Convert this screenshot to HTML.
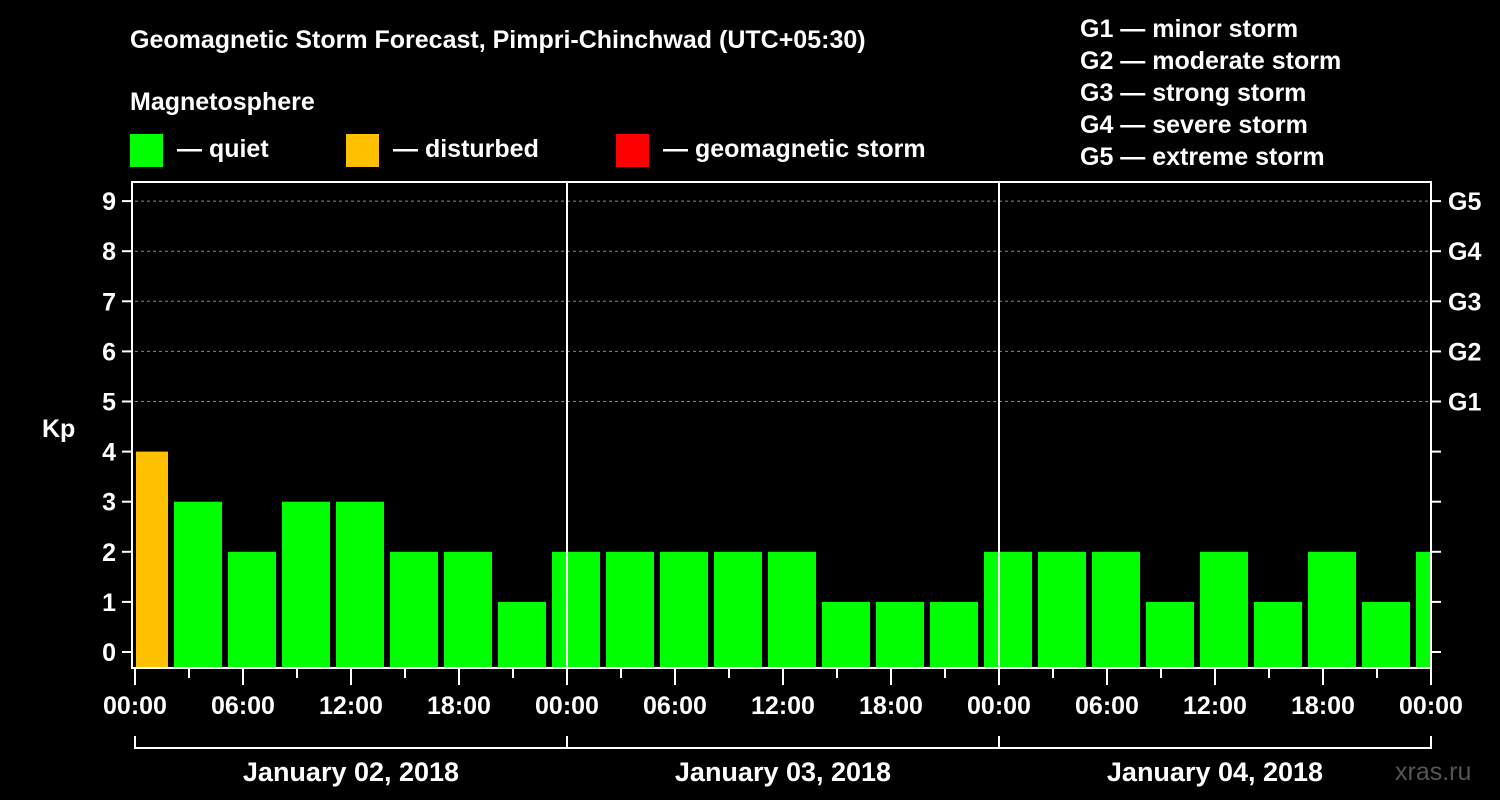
<!DOCTYPE html>
<html><head><meta charset="utf-8"><style>
html,body{margin:0;padding:0;background:#000;}
svg{display:block;font-family:"Liberation Sans",Arial,sans-serif;font-weight:bold;}
</style></head><body>
<svg id="c" width="1500" height="800" viewBox="0 0 1500 800">
<rect width="1500" height="800" fill="#000"/>
<text x="130" y="48" fill="#fff" font-size="25">Geomagnetic Storm Forecast, Pimpri-Chinchwad (UTC+05:30)</text>
<text x="130" y="110" fill="#fff" font-size="25">Magnetosphere</text>
<g><rect x="130" y="134" width="33" height="33" fill="#00ff00"/><text x="177" y="157" fill="#fff" font-size="25">— quiet</text></g>
<g><rect x="346" y="134" width="33" height="33" fill="#ffc000"/><text x="393" y="157" fill="#fff" font-size="25">— disturbed</text></g>
<g><rect x="616" y="134" width="33" height="33" fill="#ff0000"/><text x="663" y="157" fill="#fff" font-size="25">— geomagnetic storm</text></g>
<g fill="#fff" font-size="25">
<text x="1080" y="37">G1 — minor storm</text>
<text x="1080" y="69">G2 — moderate storm</text>
<text x="1080" y="101">G3 — strong storm</text>
<text x="1080" y="133">G4 — severe storm</text>
<text x="1080" y="165">G5 — extreme storm</text>
</g>
<text x="42" y="437" fill="#fff" font-size="25">Kp</text>
<text x="1395" y="780" fill="#555" font-size="25" font-weight="normal">xras.ru</text>
<g id="plot"></g>
</svg>
<script>
const kpValues=[4,3,2,3,3,2,2,1, 2,2,2,2,2,1,1,1, 2,2,2,1,2,1,2,1,2];
const kpStatus=['disturbed','quiet','quiet','quiet','quiet','quiet','quiet','quiet','quiet','quiet','quiet','quiet','quiet','quiet','quiet','quiet','quiet','quiet','quiet','quiet','quiet','quiet','quiet','quiet','quiet'];
const dayLabels=['January 02, 2018','January 03, 2018','January 04, 2018'];
const hourTickLabels=['00:00','06:00','12:00','18:00'];
const gLabels=['G1','G2','G3','G4','G5'];
const firstBarStartHour=-1;
const NS='http://www.w3.org/2000/svg';
const g=document.getElementById('plot');
const X0=135,PXH=18,TOTAL=72,X1=X0+TOTAL*PXH;
const y=v=>652-v*50.1;
const x=h=>X0+h*PXH;
function mk(t,a,p){const e=document.createElementNS(NS,t);for(const k in a)e.setAttribute(k,a[k]);(p||g).appendChild(e);return e;}
const colors={quiet:'#00ff00',disturbed:'#ffc000',storm:'#ff0000'};
// gridlines
for(let v=5;v<=9;v++){const l=mk('line',{x1:X0,x2:X1,y1:y(v),y2:y(v),stroke:'#888','stroke-dasharray':'3,3','stroke-width':1});

}
// bars
kpValues.forEach((v,i)=>{
 let s=firstBarStartHour+3*i,e=s+3;
 let a=x(s)+3,b=x(e)-3;
 a=Math.max(a,X0+1);b=Math.min(b,X1-1);
 if(b<=a)return;
 const r=mk('rect',{x:a,y:y(v),width:b-a,height:668-y(v),fill:colors[kpStatus[i]]});
 
 
});
// day separators
for(let d=1;d<3;d++){const l=mk('line',{x1:x(d*24),x2:x(d*24),y1:182,y2:668,stroke:'#fff','stroke-width':2});

}
// axes frame
const fr=mk('rect',{x:X0-3,y:182,width:X1-X0+3,height:486,fill:'none',stroke:'#fff','stroke-width':2});


// y ticks
for(let v=0;v<=9;v++){
 mk('line',{x1:122,x2:131,y1:y(v),y2:y(v),stroke:'#fff','stroke-width':2});
 mk('line',{x1:X1+1,x2:X1+10,y1:y(v),y2:y(v),stroke:'#fff','stroke-width':2});
 const t=mk('text',{x:116,y:y(v)+9,fill:'#fff','font-size':25,'text-anchor':'end'});t.textContent=v;
 
 
}
gLabels.forEach((s,i)=>{const t=mk('text',{x:1448,y:y(5+i)+9,fill:'#fff','font-size':25});t.textContent=s;

});
// x ticks
for(let h=0;h<=TOTAL;h+=3){
 const major=h%6===0;
 mk('line',{x1:x(h),x2:x(h),y1:669,y2:major?685:678,stroke:'#fff','stroke-width':2});
 if(major){const t=mk('text',{x:x(h),y:714,fill:'#fff','font-size':25,'text-anchor':'middle'});t.textContent=hourTickLabels[(h/6)%4];
 
 }
}
// day brackets
mk('line',{x1:x(0),x2:X1,y1:748,y2:748,stroke:'#fff','stroke-width':2});
for(let d=0;d<=3;d++)mk('line',{x1:x(d*24),x2:x(d*24),y1:736,y2:749,stroke:'#fff','stroke-width':2});
dayLabels.forEach((s,d)=>{const t=mk('text',{x:x(d*24+12),y:781,fill:'#fff','font-size':27,'text-anchor':'middle'});t.textContent=s;

});
</script>
</body></html>
